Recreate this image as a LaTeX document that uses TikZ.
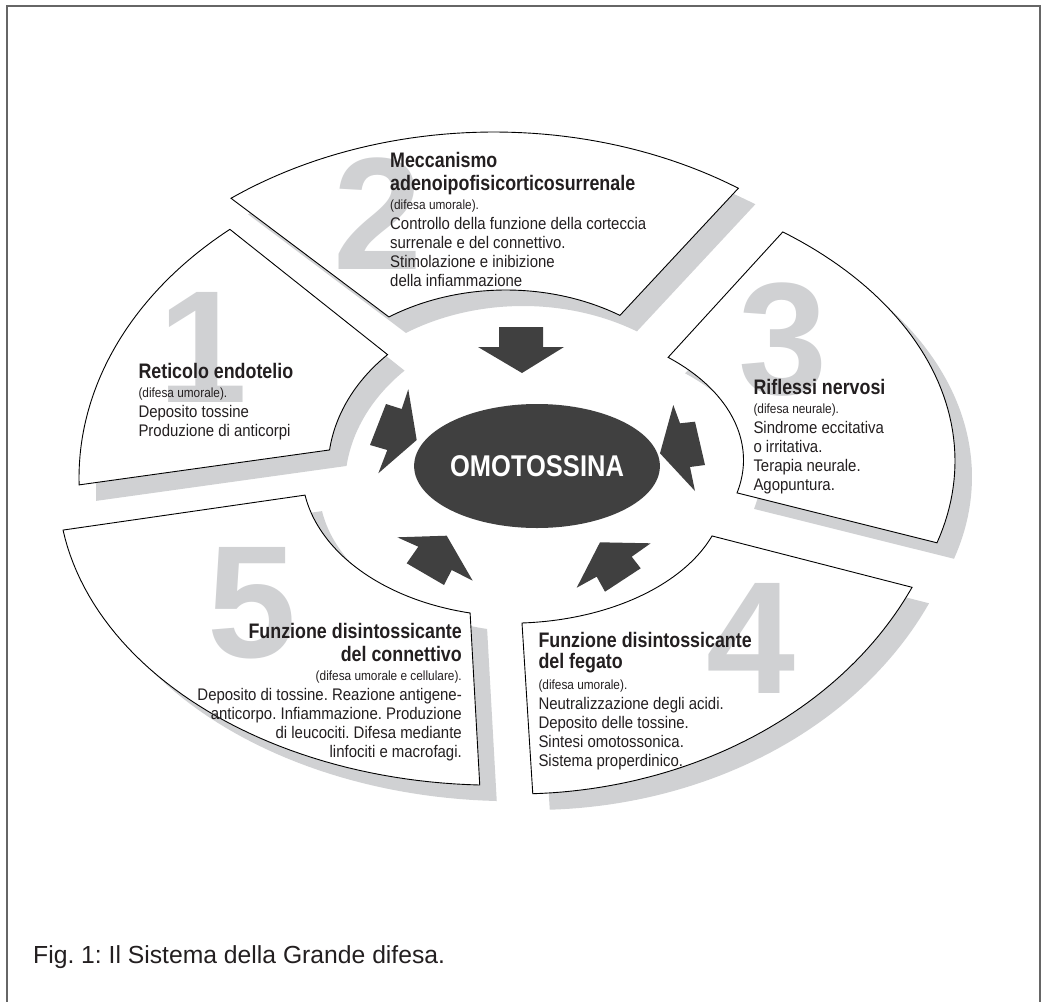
\documentclass[tikz,border=0pt]{standalone}
\usepackage{fontspec}
\setmainfont{Liberation Sans}
\newfontfamily\condfont[FakeStretch=0.89]{Liberation Sans}
\newfontfamily\condbold[FakeStretch=0.85]{Liberation Sans Bold}
\newfontfamily\numfont{Liberation Sans Bold}
\usetikzlibrary{shapes.geometric, positioning}
\frenchspacing

\definecolor{darkfill}{RGB}{64,64,64}
\definecolor{lightshade}{RGB}{208,209,211}
\definecolor{framegray}{RGB}{102,102,102}
\definecolor{inkblack}{RGB}{35,31,32}

\newcommand\bodyfont{\condfont\fontsize{16.8}{19}\selectfont}
\newcommand\headfont{\condbold\fontsize{21}{19}\selectfont}
\newcommand\notefont{\condfont\fontsize{13.3}{19}\selectfont}

% outer cx/cy/rx/ry/from/to, inner cx/cy/rx/ry/from/to
\def\seglist{494/461/437/329/233/304/506/457/215/167/302/237,
  516/478/437/329/178.8/229.1/543/470/215/167/223.7/186.9,
  518/461/437/288/307.3/376.5/528.5/460/215/135/374.1/310.5,
  516/436/437/358/25/87.8/510/490.6/215/132.6/86.8/20,
  495/484.6/437/300.6/92/171.3/517/470.8/215/145.7/170.4/102.6}

\begin{document}
\begin{tikzpicture}[x=1pt,y=-1pt,
  segment/.style={draw=black,line width=0.9pt,fill=white},
  segshadow/.style={fill=lightshade,shift={(17,16)}},
  textblock/.style={inner sep=0pt,align=left,text=inkblack,font=\bodyfont},
  bignum/.style={inner sep=0pt,text=lightshade,font=\numfont\fontsize{160}{160}\selectfont},
  arrowshape/.style={fill=darkfill}]
  \useasboundingbox (0,0) rectangle (1045,1002);
  \draw[framegray,line width=2.4pt] (7,1020) -- (7,6) -- (1040,6) -- (1040,1020);

  \foreach \ox/\oy/\orx/\ory/\oa/\ob/\ix/\iy/\irx/\iry/\ia/\ib in \seglist
    \fill[segshadow] plot[domain=\oa:\ob,samples=50] ({\ox+\orx*cos(\x)},{\oy+\ory*sin(\x)})
      -- plot[domain=\ia:\ib,samples=50] ({\ix+\irx*cos(\x)},{\iy+\iry*sin(\x)}) -- cycle;
  \foreach \ox/\oy/\orx/\ory/\oa/\ob/\ix/\iy/\irx/\iry/\ia/\ib in \seglist
    \draw[segment] plot[domain=\oa:\ob,samples=50] ({\ox+\orx*cos(\x)},{\oy+\ory*sin(\x)})
      -- plot[domain=\ia:\ib,samples=50] ({\ix+\irx*cos(\x)},{\iy+\iry*sin(\x)}) -- cycle;

  \node[bignum] (n1) at (203,347) {1};
  \node[bignum] (n2) at (378,214) {2};
  \node[bignum] (n3) at (783,340) {3};
  \node[bignum] (n4) at (751,638) {4};
  \node[bignum] (n5) at (252,603) {5};

  \node[textblock,anchor=north west] (meccanismo) at (390,151.7)
    {{\headfont Meccanismo}\\[4pt]{\headfont adenoipofisicorticosurrenale}\\{\notefont (difesa umorale).}\\[1pt]Controllo della funzione della corteccia\\surrenale e del connettivo.\\Stimolazione e inibizione\\della infiammazione};
  \node[textblock,anchor=north west] (reticolo) at (138.3,363.3)
    {{\headfont Reticolo endotelio}\\{\notefont (difesa umorale).}\\[1pt]Deposito tossine\\Produzione di anticorpi};
  \node[textblock,anchor=north west] (riflessi) at (753.3,379)
    {{\headfont Riflessi nervosi}\\{\notefont (difesa neurale).}\\[1pt]Sindrome eccitativa\\o irritativa.\\Terapia neurale.\\Agopuntura.};
  \node[textblock,anchor=north east,align=right] (connettivo) at (462,623.3)
    {{\headfont Funzione disintossicante}\\[4pt]{\headfont del connettivo}\\{\notefont (difesa umorale e cellulare).}\\[1pt]Deposito di tossine. Reazione antigene-\\anticorpo. Infiammazione. Produzione\\di leucociti. Difesa mediante\\linfociti e macrofagi.};
  \node[textblock,anchor=north west] (fegato) at (538.3,631.7)
    {{\headfont Funzione disintossicante}\\[2.5pt]{\headfont del fegato}\\[2pt]{\notefont (difesa umorale).}\\[1pt]Neutralizzazione degli acidi.\\Deposito delle tossine.\\Sintesi omotossonica.\\Sistema properdinico.};

  \fill[arrowshape] (499,327) -- (543,327) -- (543,347) -- (564,347) -- (522,373) -- (478,347) -- (499,347) -- cycle;
  \fill[arrowshape] (408.3,389.3) -- (416.7,440) -- (378.3,473.3) -- (387.3,450) -- (370,445) -- (386,404) -- (401.7,409) -- cycle;
  \fill[arrowshape] (673.3,405) -- (680,423.3) -- (695,421.7) -- (705,465) -- (690,467) -- (695,491) -- (660,453.3) -- cycle;
  \fill[arrowshape] (397.3,537.3) -- (446.7,535.7) -- (472.7,580.7) -- (451.7,570) -- (444,585) -- (406.7,563.3) -- (418.3,546.7) -- cycle;
  \fill[arrowshape] (600,542.3) -- (650.7,543.3) -- (631.7,556.7) -- (640.7,568.3) -- (605,591.7) -- (596.7,576.7) -- (576.7,587.7) -- cycle;

  \node[ellipse,fill=darkfill,minimum width=206pt,minimum height=124pt,inner sep=0pt,
    text=white,font=\condbold\fontsize{30}{30}\selectfont] (omo) at (537,466) {OMOTOSSINA};

  \node[anchor=base west,inner sep=0pt,text=inkblack,font=\fontsize{24.7}{28}\selectfont] (fig) at (33,963)
    {Fig. 1: Il Sistema della Grande difesa.};
\end{tikzpicture}
\end{document}
